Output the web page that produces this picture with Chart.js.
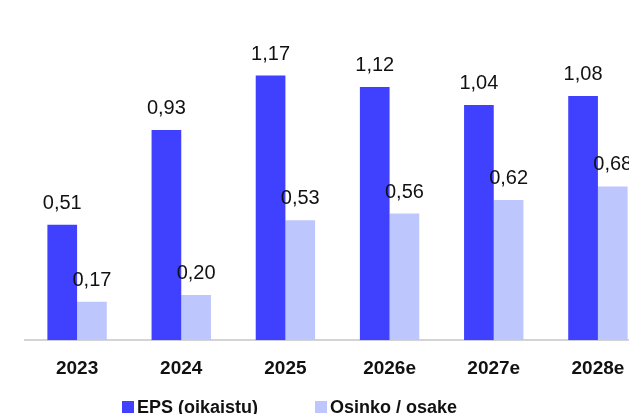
<!DOCTYPE html>
<html>
<head>
<meta charset="utf-8">
<script src="https://cdn.jsdelivr.net/npm/chart.js@4"></script>
<style>
  html, body { margin: 0; padding: 0; background: #fff; overflow: hidden; }
  #wrap { position: relative; width: 629px; height: 414px; overflow: hidden; }
  #wrap canvas { position: absolute; left: 0; top: 0; }
  #legend {
    position: absolute; left: 0; top: 397px; width: 629px;
    font: bold 18px "Liberation Sans", Arial, sans-serif; color: #111;
  }
  #legend span { position: absolute; top: 0; white-space: nowrap; }
  #legend i { display: inline-block; width: 12px; height: 12px; margin-right: 3px; vertical-align: 0; }
</style>
</head>
<body>
<div id="wrap">
  <canvas id="graph" width="650" height="414"></canvas>
  <div id="legend"></div>
</div>
<script>
const years = ['2023', '2024', '2025', '2026e', '2027e', '2028e'];
const eps = [0.51, 0.93, 1.17, 1.12, 1.04, 1.08];
const dividend = [0.17, 0.20, 0.53, 0.56, 0.62, 0.68];
const seriesNames = ['EPS (oikaistu)', 'Osinko / osake'];
const seriesColors = ['#4040FF', '#BDC6FD'];

const fmt = v => v.toFixed(2).replace('.', ',');

// value labels above every bar
const valueLabels = {
    id: 'valueLabels',
    afterDatasetsDraw(chart) {
        const ctx = chart.ctx;
        ctx.save();
        ctx.font = '20px "Liberation Sans", Arial, sans-serif';
        ctx.fillStyle = '#111';
        ctx.textAlign = 'center';
        ctx.textBaseline = 'alphabetic';
        chart.data.datasets.forEach((ds, i) => {
            chart.getDatasetMeta(i).data.forEach((bar, j) => {
                ctx.fillText(fmt(ds.data[j]), bar.x, bar.y - 16);
            });
        });
        ctx.restore();
    }
};

const graphContext = document.querySelector('#graph');

new Chart(graphContext, {
    type: 'bar',
    data: {
        labels: years,
        datasets: [
            { label: seriesNames[0], data: eps, backgroundColor: seriesColors[0], borderWidth: 0 },
            { label: seriesNames[1], data: dividend, backgroundColor: seriesColors[1], borderWidth: 0 }
        ]
    },
    options: {
        responsive: false,
        animation: false,
        layout: { padding: { left: 25, right: 0, top: 1, bottom: 17 } },
        datasets: { bar: { categoryPercentage: 0.57, barPercentage: 1 } },
        scales: {
            x: {
                grid: { display: false, drawTicks: false },
                border: { display: true, color: '#d4d4d4', width: 2 },
                ticks: {
                    padding: 17,
                    color: '#111',
                    font: { family: '"Liberation Sans", Arial, sans-serif', size: 19, weight: 'bold' }
                }
            },
            y: { display: false, min: 0, max: 1.5 }
        },
        plugins: {
            legend: { display: false },
            tooltip: { enabled: false }
        }
    },
    plugins: [valueLabels]
});

// legend row under the axis
const legend = document.querySelector('#legend');
const legendX = [122, 315];
seriesNames.forEach((name, i) => {
    const item = document.createElement('span');
    item.style.left = legendX[i] + 'px';
    item.innerHTML = '<i style="background:' + seriesColors[i] + '"></i>' + name;
    legend.appendChild(item);
});
</script>
</body>
</html>
